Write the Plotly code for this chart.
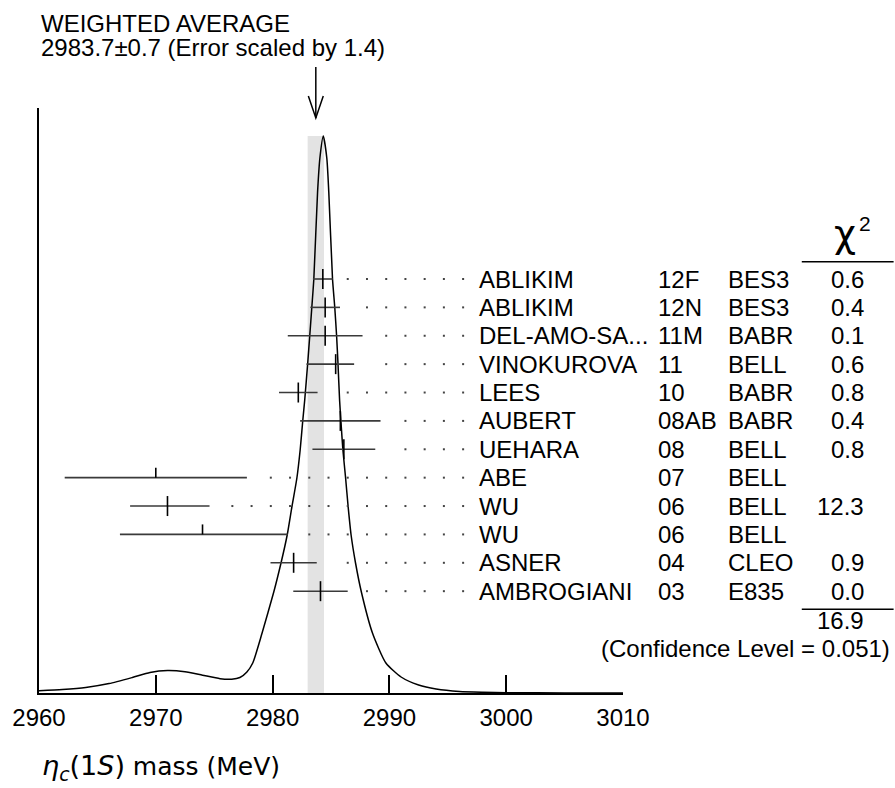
import plotly.graph_objects as go

# ---------------- data ----------------
authors = ["ABLIKIM", "ABLIKIM", "DEL-AMO-SA...", "VINOKUROVA", "LEES", "AUBERT",
           "UEHARA", "ABE", "WU", "WU", "ASNER", "AMBROGIANI"]
years = ["12F", "12N", "11M", "11", "10", "08AB", "08", "07", "06", "06", "04", "03"]
experiments = ["BES3", "BES3", "BABR", "BELL", "BABR", "BABR", "BELL", "BELL",
               "BELL", "BELL", "CLEO", "E835"]
chi2_text = ["0.6", "0.4", "0.1", "0.6", "0.8", "0.4", "0.8", "", "12.3", "", "0.9", "0.0"]
mass = [2984.3, 2984.5, 2984.5, 2985.4, 2982.2, 2985.8, 2986.1, 2970.0, 2971.0, 2974.0, 2981.8, 2984.1]
err_minus = [0.85, 1.27, 3.2, 2.5, 1.65, 3.44, 2.69, 7.8, 3.2, 7.07, 1.98, 2.33]
err_plus = [0.85, 1.27, 3.2, 1.58, 1.65, 3.44, 2.69, 7.8, 3.6, 7.3, 1.98, 2.33]
used_in_average = [True, True, True, True, True, True, True, False, True, False, True, True]

average = 2983.7
average_err = 0.7
scale_factor = 1.4
chi2_total = "16.9"
confidence_level = "0.051"

# ideogram curve (arbitrary units)
ideo_mass = [2960.0, 2962.0, 2964.0, 2966.0, 2968.0, 2969.5, 2971.0, 2972.5, 2974.0,
             2975.5, 2976.5, 2977.2, 2977.8, 2978.3, 2979.1, 2980.1, 2980.72, 2981.25,
             2981.65, 2982.08, 2982.36, 2982.58, 2982.75, 2983.0, 2983.18, 2983.36,
             2983.53, 2983.85, 2984.05, 2984.34, 2984.64, 2984.81, 2985.13, 2985.32,
             2985.48, 2985.60, 2985.74, 2985.86, 2986.02, 2986.25, 2986.47, 2986.72,
             2987.10, 2987.60, 2988.55, 2989.7, 2991.0, 2992.5, 2994.0, 2996.0,
             2998.0, 3000.0, 3005.0, 3010.0]
ideo_value = [2.3, 3.5, 5.5, 9.4, 15.5, 20.5, 22.5, 21.3, 17.8,
              14.3, 13.8, 15.5, 21, 30, 60, 101, 130, 158,
              186, 215, 243, 272, 293, 329, 357, 386,
              414, 501, 535, 557, 535, 501, 414, 386,
              357, 329, 292, 270, 243, 215, 186, 158,
              130, 101, 60, 30, 16, 8, 4, 1.5,
              0.7, 0.3, 0.1, 0.0]

tick_vals = [2960, 2970, 2980, 2990, 3000, 3010]
x_title = ('<span style="font-size:27px"><i>η</i><sub><i>c</i></sub>(1<i>S</i>)</span>'
           ' mass (MeV)')

# ---------------- layout geometry ----------------
W, H = 895, 788
L, R, T, B = 36, 272, 108, 95
PW, PH = W - L - R, H - T - B
XMIN, XMAX = 2960, 3010
ROW0_PX, ROW_STEP = 279.0, 28.38
FONT = "Liberation Sans, Arial, Helvetica, sans-serif"
TXT = 24


def px_x(px):
    return (px - L) / PW


def px_y(py):
    return (H - B - py) / PH


mev_per_px = (XMAX - XMIN) / PW
rows = list(range(len(authors)))
y2_top = (T - ROW0_PX) / ROW_STEP
y2_bot = (H - B - ROW0_PX) / ROW_STEP
tick_half = 10.0 / ROW_STEP

fig = go.Figure()

# ideogram curve
fig.add_trace(go.Scatter(x=ideo_mass, y=ideo_value, mode="lines",
                         line=dict(color="black", width=1.5, shape="spline", smoothing=0.6),
                         hoverinfo="skip", showlegend=False))

# dotted leaders
dot_step = 19.33 * mev_per_px
dot_last = XMIN + (462.3 - L) * mev_per_px
dx, dy = [], []
for i in rows:
    right_end = mass[i] + err_plus[i]
    k = 0
    while True:
        xd = dot_last - k * dot_step
        if xd <= right_end + 13.5 * mev_per_px or xd < XMIN:
            break
        dx.append(xd)
        dy.append(i)
        k += 1
fig.add_trace(go.Scatter(x=dx, y=dy, yaxis="y2", mode="markers",
                         marker=dict(symbol="square", size=2, color="#444444"),
                         hoverinfo="skip", showlegend=False))

# horizontal error bars
bx, by = [], []
for i in rows:
    bx += [mass[i] - err_minus[i], mass[i] + err_plus[i], None]
    by += [i, i, None]
fig.add_trace(go.Scatter(x=bx, y=by, yaxis="y2", mode="lines",
                         line=dict(color="#3a3a3a", width=1.6),
                         hoverinfo="skip", showlegend=False))

# central value ticks
tx, ty = [], []
for i in rows:
    tx += [mass[i], mass[i], None]
    ty += [i - tick_half, (i + tick_half) if used_in_average[i] else i, None]
fig.add_trace(go.Scatter(x=tx, y=ty, yaxis="y2", mode="lines",
                         line=dict(color="black", width=1.6),
                         hoverinfo="skip", showlegend=False))

shapes = []
# gray band of weighted average
shapes.append(dict(type="rect", xref="x", yref="y", layer="below",
                   x0=average - average_err, x1=average + average_err,
                   y0=0, y1=max(ideo_value), fillcolor="#e3e3e3", line=dict(width=0)))
# arrow
ax_p = (average - XMIN) / (XMAX - XMIN)
half_head = 7.5 / PW
shapes.append(dict(type="line", xref="paper", yref="paper",
                   x0=ax_p, x1=ax_p, y0=px_y(67), y1=px_y(118),
                   line=dict(color="black", width=1.5)))
shapes.append(dict(type="path", xref="paper", yref="paper",
                   path=f"M {ax_p - half_head} {px_y(96)} L {ax_p} {px_y(118)} L {ax_p + half_head} {px_y(96)}",
                   line=dict(color="black", width=1.5)))
# chi2 column rules
for py in (261.7, 609.3):
    shapes.append(dict(type="line", xref="paper", yref="paper",
                       x0=px_x(802.7), x1=px_x(895), y0=px_y(py), y1=px_y(py),
                       line=dict(color="black", width=1.5)))

annotations = []
col_author, col_year, col_exp, col_chi = px_x(476), px_x(656), px_x(726.7), px_x(867)
for i in rows:
    for xp, txt, anc in ((col_author, authors[i], "left"), (col_year, years[i], "left"),
                         (col_exp, experiments[i], "left"), (col_chi, chi2_text[i], "right")):
        if txt:
            annotations.append(dict(x=xp, y=i, xref="paper", yref="y2", text=txt,
                                    showarrow=False, xanchor=anc, yanchor="middle",
                                    font=dict(family=FONT, size=TXT, color="black")))

# chi^2 header
annotations.append(dict(x=px_x(846), y=px_y(234), xref="paper", yref="paper",
                        text="χ", showarrow=False, xanchor="center", yanchor="middle",
                        font=dict(family="DejaVu Sans, sans-serif", size=38, color="black")))
annotations.append(dict(x=px_x(866), y=px_y(224), xref="paper", yref="paper",
                        text="2", showarrow=False, xanchor="center", yanchor="middle",
                        font=dict(family=FONT, size=21, color="black")))
annotations.append(dict(x=col_chi, y=px_y(620), xref="paper", yref="paper", text=chi2_total,
                        showarrow=False, xanchor="right", yanchor="middle",
                        font=dict(family=FONT, size=TXT, color="black")))
annotations.append(dict(x=px_x(893), y=px_y(648), xref="paper", yref="paper",
                        text=f"(Confidence Level = {confidence_level})",
                        showarrow=False, xanchor="right", yanchor="middle",
                        font=dict(family=FONT, size=TXT, color="black")))
annotations.append(dict(x=px_x(37), y=px_y(23), xref="paper", yref="paper",
                        text="WEIGHTED AVERAGE", showarrow=False, xanchor="left", yanchor="middle",
                        borderpad=0, font=dict(family=FONT, size=TXT, color="black")))
annotations.append(dict(x=px_x(37), y=px_y(48), xref="paper", yref="paper",
                        text=f"{average}±{average_err} (Error scaled by {scale_factor})",
                        showarrow=False, xanchor="left", yanchor="middle",
                        borderpad=0, font=dict(family=FONT, size=TXT, color="black")))
annotations.append(dict(x=px_x(37), y=px_y(767), xref="paper", yref="paper",
                        text=x_title, showarrow=False, xanchor="left", yanchor="middle",
                        font=dict(family="DejaVu Sans, sans-serif", size=25, color="black")))

fig.update_layout(
    width=W, height=H,
    margin=dict(l=L, r=R, t=T, b=B, pad=0),
    paper_bgcolor="white", plot_bgcolor="white",
    showlegend=False,
    shapes=shapes, annotations=annotations,
    xaxis=dict(range=[XMIN, XMAX], tickvals=tick_vals, ticktext=[str(v) for v in tick_vals],
               ticks="inside", ticklen=18, tickwidth=1.5, tickcolor="black",
               showline=True, linewidth=1.5, linecolor="black",
               showgrid=False, zeroline=False, ticklabelstandoff=2,
               tickfont=dict(family=FONT, size=TXT, color="black"), fixedrange=True),
    yaxis=dict(range=[0, max(ideo_value) * PH / (H - B - 136)], showline=True,
               linewidth=1.5, linecolor="black", showticklabels=False, ticks="",
               showgrid=False, zeroline=False, fixedrange=True),
    yaxis2=dict(range=[y2_bot, y2_top], overlaying="y", visible=False, fixedrange=True),
)

fig.write_html("out.html", config={"displayModeBar": False},
               post_script="document.body.style.margin='0px';document.body.style.overflow='hidden';")
